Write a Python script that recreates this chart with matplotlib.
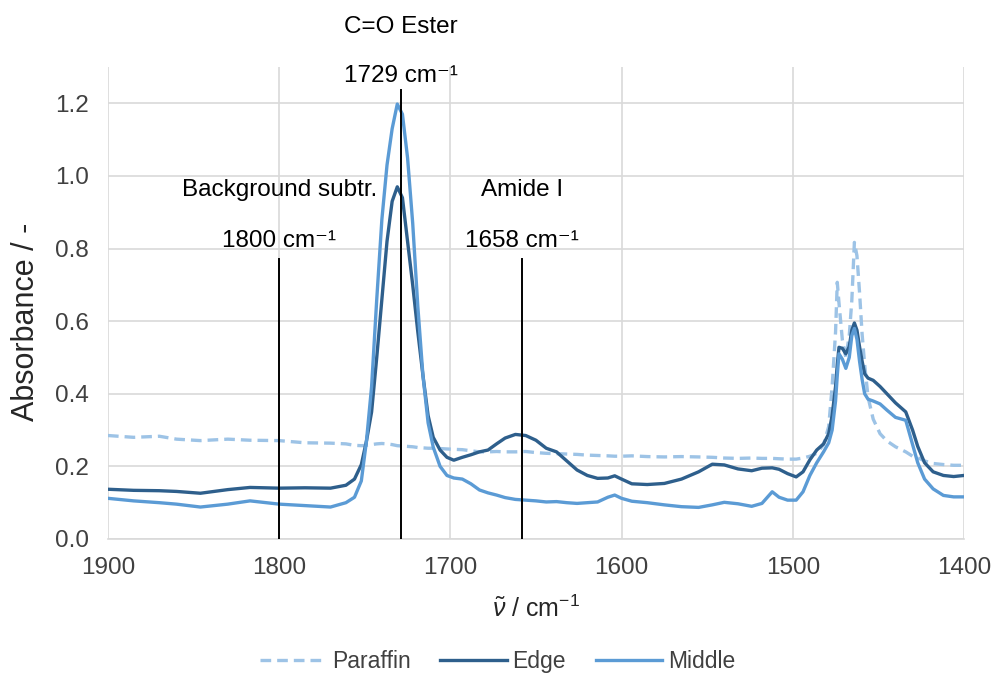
import matplotlib
matplotlib.use("Agg")
import matplotlib.pyplot as plt

plt.rcParams["font.family"] = ["Liberation Sans", "DejaVu Sans"]
plt.rcParams["mathtext.fontset"] = "custom"
plt.rcParams["mathtext.rm"] = "Liberation Sans"
plt.rcParams["mathtext.it"] = "Liberation Sans:italic"

# wavenumber grid (cm-1)
wn = [1900, 1885, 1870, 1860, 1846, 1830, 1817, 1800, 1785, 1770, 1761, 1756,
      1752, 1749, 1746, 1743, 1740, 1737, 1734, 1731, 1728, 1725, 1722, 1719,
      1716, 1713, 1710, 1706, 1702, 1698, 1693, 1688, 1683, 1678, 1673, 1668,
      1662, 1656, 1650, 1644, 1638, 1632, 1626, 1620, 1614, 1608, 1604, 1600,
      1594, 1585, 1575, 1565, 1555, 1547, 1540, 1532, 1524, 1518, 1512, 1508,
      1503, 1498, 1494, 1490, 1486, 1482, 1479, 1477, 1475, 1474, 1473, 1471,
      1469, 1467, 1465.5, 1464, 1462.5, 1461, 1459.5, 1458, 1456, 1453, 1449,
      1445, 1440, 1434, 1430, 1427, 1423, 1418, 1412, 1406, 1400]

paraffin = [0.285, 0.280, 0.283, 0.275, 0.271, 0.275, 0.272, 0.271, 0.265, 0.264, 0.262, 0.258,
            0.257, 0.258, 0.260, 0.262, 0.263, 0.262, 0.260, 0.257, 0.256, 0.255, 0.254, 0.252,
            0.251, 0.250, 0.250, 0.249, 0.248, 0.247, 0.246, 0.243, 0.240, 0.240, 0.241, 0.240,
            0.240, 0.241, 0.238, 0.236, 0.235, 0.234, 0.233, 0.231, 0.230, 0.229, 0.228, 0.228,
            0.229, 0.227, 0.226, 0.227, 0.226, 0.225, 0.223, 0.222, 0.223, 0.222, 0.222, 0.221,
            0.220, 0.220, 0.223, 0.228, 0.236, 0.260, 0.310, 0.420, 0.570, 0.707, 0.650, 0.547,
            0.500, 0.560, 0.657, 0.817, 0.780, 0.680, 0.565, 0.480, 0.390, 0.330, 0.290,
            0.270, 0.254, 0.240, 0.228, 0.224, 0.215, 0.208, 0.205, 0.203, 0.203]

edge = [0.137, 0.134, 0.133, 0.131, 0.126, 0.136, 0.142, 0.140, 0.141, 0.140, 0.148, 0.165,
        0.205, 0.270, 0.350, 0.500, 0.660, 0.820, 0.930, 0.970, 0.940, 0.820, 0.700, 0.570,
        0.450, 0.340, 0.280, 0.245, 0.225, 0.217, 0.225, 0.232, 0.240, 0.245, 0.262, 0.278,
        0.288, 0.285, 0.272, 0.250, 0.240, 0.215, 0.190, 0.175, 0.167, 0.168, 0.174, 0.165,
        0.152, 0.150, 0.153, 0.165, 0.185, 0.206, 0.204, 0.193, 0.188, 0.195, 0.196, 0.192,
        0.180, 0.171, 0.185, 0.218, 0.245, 0.262, 0.290, 0.340, 0.420, 0.480, 0.528, 0.525,
        0.510, 0.530, 0.575, 0.595, 0.575, 0.530, 0.490, 0.455, 0.443, 0.437, 0.420,
        0.400, 0.375, 0.350, 0.300, 0.255, 0.210, 0.185, 0.175, 0.172, 0.175]

middle = [0.112, 0.105, 0.100, 0.096, 0.088, 0.096, 0.105, 0.096, 0.092, 0.088, 0.100, 0.115,
          0.160, 0.270, 0.420, 0.660, 0.880, 1.030, 1.130, 1.198, 1.170, 1.050, 0.870, 0.640,
          0.450, 0.320, 0.253, 0.200, 0.175, 0.168, 0.165, 0.152, 0.135, 0.127, 0.121, 0.114,
          0.109, 0.107, 0.105, 0.102, 0.103, 0.100, 0.098, 0.100, 0.102, 0.115, 0.121, 0.112,
          0.104, 0.100, 0.094, 0.089, 0.087, 0.094, 0.101, 0.097, 0.090, 0.098, 0.130, 0.115,
          0.107, 0.107, 0.130, 0.175, 0.210, 0.240, 0.265, 0.300, 0.380, 0.450, 0.510, 0.495,
          0.470, 0.500, 0.560, 0.580, 0.550, 0.490, 0.440, 0.400, 0.385, 0.380, 0.372,
          0.355, 0.335, 0.327, 0.260, 0.210, 0.165, 0.138, 0.120, 0.116, 0.116]

# marker lines: position, top, name, number
marks = [(1800, 0.772, "Background subtr.", "1800"),
         (1729, 1.236, "C=O Ester", "1729"),
         (1658, 0.772, "Amide I", "1658")]

fig = plt.figure(figsize=(9.95, 6.79), dpi=100)
ax = fig.add_axes([0.1085, 0.2062, 0.8603, 0.6951])

grid_c = "#d9d9d9"
fs = 17.5
ax.plot(wn, paraffin, color="#9dc3e6", lw=2.4, ls=(0, (3.2, 1.8)), label="Paraffin")
ax.plot(wn, edge, color="#2e5f8c", lw=2.4, label="Edge")
ax.plot(wn, middle, color="#5b9bd5", lw=2.4, label="Middle")

for x, top, name, num in marks:
    ax.plot([x, x], [0, top], color="black", lw=1.4, zorder=4)
    if top > 1.0:
        ax.text(x, top + 0.04, num + " cm⁻¹", ha="center", va="center", fontsize=fs)
        ax.text(x, top + 0.175, name, ha="center", va="center", fontsize=fs)
    else:
        ax.text(x, top + 0.05, num + " cm⁻¹", ha="center", va="center", fontsize=fs)
        ax.text(x, top + 0.19, name, ha="center", va="center", fontsize=fs)

ax.set_xlim(1900, 1400)
ax.set_ylim(0, 1.3)
ax.set_xticks([1900, 1800, 1700, 1600, 1500, 1400])
ax.set_yticks([0.0, 0.2, 0.4, 0.6, 0.8, 1.0, 1.2])
ax.set_yticklabels(["0.0", "0.2", "0.4", "0.6", "0.8", "1.0", "1.2"])
ax.grid(True, color=grid_c, lw=1.2)
ax.set_axisbelow(True)
for s in ["top", "right", "left"]:
    ax.spines[s].set_visible(False)
ax.spines["bottom"].set_color(grid_c)
ax.spines["bottom"].set_linewidth(1.2)
ax.tick_params(length=0, labelsize=fs, colors="#404040")
ax.tick_params(axis="y", pad=14)
ax.tick_params(axis="x", pad=13)

ax.set_xlabel(r"$\tilde{\nu}$ / cm$^{\mathregular{-1}}$", fontsize=18, color="#262626", labelpad=12)
ax.set_ylabel("Absorbance / -", fontsize=22, color="#262626")
ax.yaxis.set_label_coords(-0.078, 0.46)

fig.legend(loc="lower center", bbox_to_anchor=(0.5, -0.022), ncol=3, frameon=False,
           fontsize=16.5, handlelength=2.9, columnspacing=1.3, handletextpad=0.25,
           labelcolor="#404040")

fig.savefig("out.png", dpi=100)
